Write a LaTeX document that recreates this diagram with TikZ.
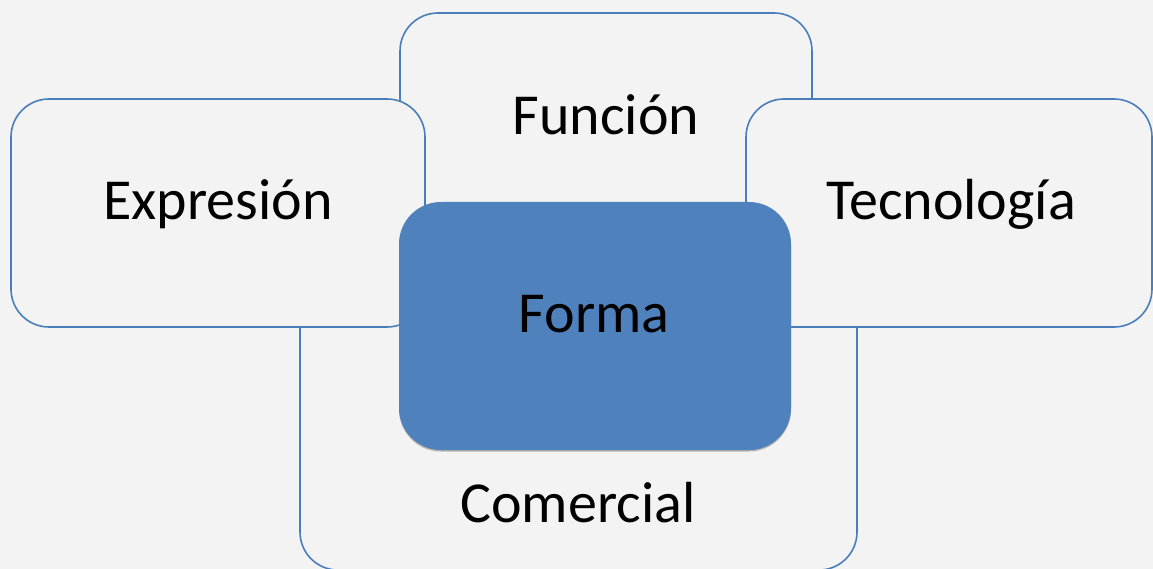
\documentclass[tikz,border=0pt]{standalone}
\usepackage{fontspec}
\setmainfont{Carlito}
\definecolor{bg}{HTML}{F3F3F3}
\definecolor{edge}{HTML}{4A7EBB}
\definecolor{fillb}{HTML}{4F81BD}
\begin{document}
\begin{tikzpicture}[x=1pt,y=-1pt,
  petal/.style={draw=edge, fill=bg, line width=1.6pt, rounded corners=38pt, inner sep=0pt},
  core/.style={fill=fillb, draw=none, rounded corners=42pt, inner sep=0pt},
  lbl/.style={font=\fontsize{58}{60}\selectfont, text=black, anchor=base, inner sep=0pt}]
\fill[bg] (0,0) rectangle (1153,569);
\useasboundingbox (0,0) rectangle (1153,569);
% boxes, bottom to top
\node[petal, minimum width=557pt, minimum height=320pt] (com) at (578.5,410) {};
\node[petal, minimum width=412pt, minimum height=287pt] (fun) at (606,156.5) {};
\node[petal, minimum width=414pt, minimum height=228pt] (exp) at (218,213) {};
\node[petal, minimum width=406pt, minimum height=228pt] (tec) at (949,213) {};
\node[core, fill=black!30, minimum width=392pt, minimum height=248pt] (shadow) at (595,327.5) {};
\node[core, minimum width=392pt, minimum height=248pt] (forma) at (595,326) {};
% labels
\node[lbl] (tfun) at (606,135) {Función};
\node[lbl] (texp) at (218,220) {Expresión};
\node[lbl] (ttec) at (951,220) {Tecnología};
\node[lbl] (tfor) at (594,332) {Forma};
\node[lbl] (tcom) at (578,522) {Comercial};
\end{tikzpicture}
\end{document}
